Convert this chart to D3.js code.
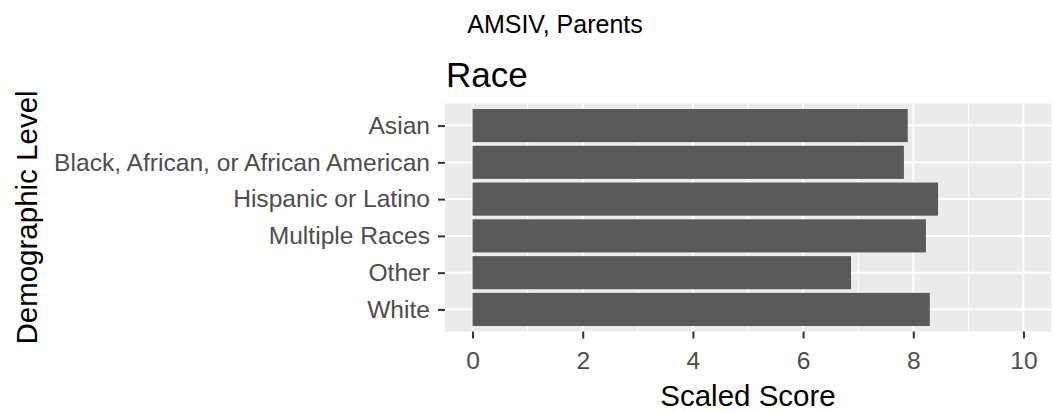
<!DOCTYPE html>
<html>
<head>
<meta charset="utf-8">
<script src="https://cdn.jsdelivr.net/npm/d3@7"></script>
<style>
  html, body { margin: 0; padding: 0; background: #ffffff; }
  svg { display: block; font-family: "Liberation Sans", Arial, sans-serif; }
</style>
</head>
<body>
<svg id="chart" width="1054" height="412"></svg>
<script>
const categories = ["Asian", "Black, African, or African American", "Hispanic or Latino", "Multiple Races", "Other", "White"];
const scores = [7.90, 7.83, 8.45, 8.23, 6.87, 8.30];
const xTicks = [0, 2, 4, 6, 8, 10];
const xMinor = [1, 3, 5, 7, 9];
const mainTitle = "AMSIV, Parents";
const plotTitle = "Race";
const xTitle = "Scaled Score";
const yTitle = "Demographic Level";

const svg = d3.select("#chart");
const panel = { left: 445, right: 1051, top: 103.5, bottom: 331.5 };

const x = d3.scaleLinear().domain([-0.5, 10.5]).range([panel.left, panel.right]);
const y = d3.scalePoint().domain(categories).range([panel.top, panel.bottom]).padding(0.6);
const step = y.step();

// panel background
svg.append("rect")
  .attr("x", panel.left).attr("y", panel.top)
  .attr("width", panel.right - panel.left).attr("height", panel.bottom - panel.top)
  .attr("fill", "#EBEBEB");

// minor grid
svg.append("g").selectAll("line").data(xMinor).join("line")
  .attr("x1", d => x(d)).attr("x2", d => x(d))
  .attr("y1", panel.top).attr("y2", panel.bottom)
  .attr("stroke", "#ffffff").attr("stroke-width", 1);

// major grid
svg.append("g").selectAll("line").data(xTicks).join("line")
  .attr("x1", d => x(d)).attr("x2", d => x(d))
  .attr("y1", panel.top).attr("y2", panel.bottom)
  .attr("stroke", "#ffffff").attr("stroke-width", 2);
svg.append("g").selectAll("line").data(categories).join("line")
  .attr("x1", panel.left).attr("x2", panel.right)
  .attr("y1", d => y(d)).attr("y2", d => y(d))
  .attr("stroke", "#ffffff").attr("stroke-width", 2);

// bars
svg.append("g").selectAll("rect").data(categories).join("rect")
  .attr("x", x(0))
  .attr("y", d => y(d) - step * 0.45)
  .attr("width", (d, i) => x(scores[i]) - x(0))
  .attr("height", step * 0.9)
  .attr("fill", "#595959");

// x axis
const xAxis = d3.axisBottom(x).tickValues(xTicks).tickSize(7).tickPadding(13).tickFormat(d3.format("d"));
const gx = svg.append("g").attr("transform", `translate(0,${panel.bottom})`).call(xAxis);
gx.select(".domain").remove();
gx.selectAll(".tick line").attr("stroke", "#333333").attr("stroke-width", 2);
gx.selectAll(".tick text").attr("fill", "#4D4D4D").attr("font-size", "24.6px")
  .attr("font-family", "'Liberation Sans', Arial, sans-serif");

// y axis
const yAxis = d3.axisLeft(y).tickSize(7).tickPadding(8);
const gy = svg.append("g").attr("transform", `translate(${panel.left},0)`).call(yAxis);
gy.select(".domain").remove();
gy.selectAll(".tick line").attr("stroke", "#333333").attr("stroke-width", 2);
gy.selectAll(".tick text").attr("fill", "#4D4D4D").attr("font-size", "24.6px")
  .attr("font-family", "'Liberation Sans', Arial, sans-serif");

// titles
svg.append("text").attr("x", 555).attr("y", 33).attr("text-anchor", "middle")
  .attr("font-size", "25px").attr("fill", "#000000").text(mainTitle);
svg.append("text").attr("x", panel.left + 1).attr("y", 87).attr("text-anchor", "start")
  .attr("font-size", "35px").attr("fill", "#000000").text(plotTitle);
svg.append("text").attr("x", (panel.left + panel.right) / 2).attr("y", 406).attr("text-anchor", "middle")
  .attr("font-size", "29.5px").attr("fill", "#000000").text(xTitle);
svg.append("text")
  .attr("transform", `translate(36.5,${(panel.top + panel.bottom) / 2}) rotate(-90)`)
  .attr("text-anchor", "middle")
  .attr("font-size", "29.5px").attr("fill", "#000000").text(yTitle);
</script>
</body>
</html>
